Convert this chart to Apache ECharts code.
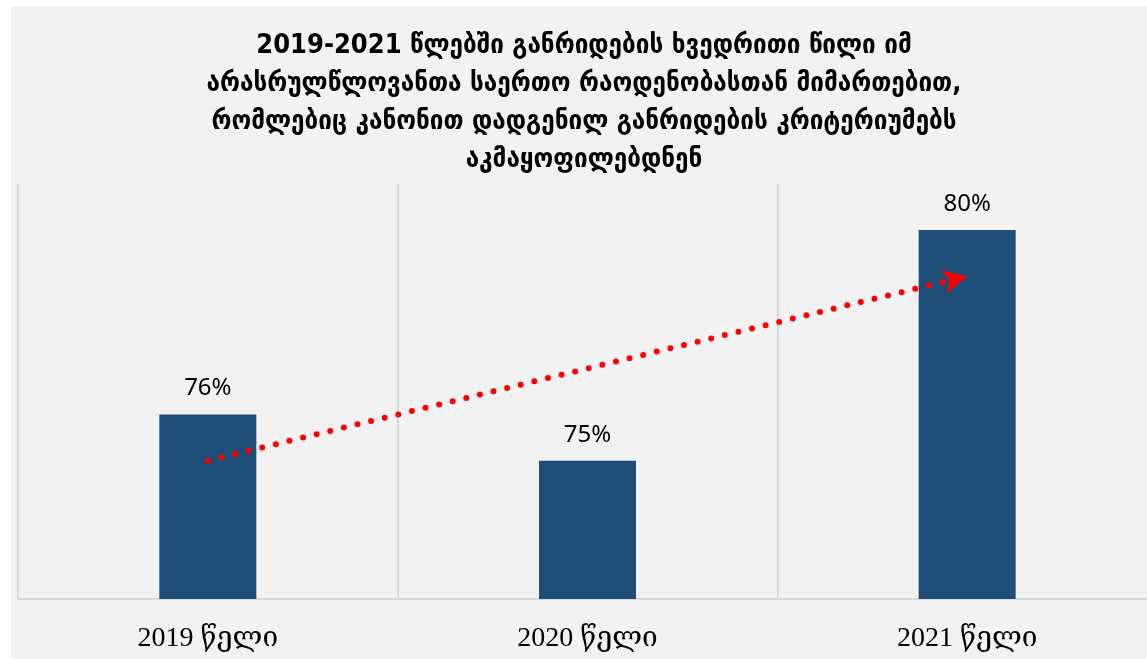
<!DOCTYPE html>
<html>
<head>
<meta charset="utf-8">
<script src="https://cdn.jsdelivr.net/npm/echarts@6/dist/echarts.min.js"></script>
<style>
  html, body { margin: 0; padding: 0; background: #fff; overflow: hidden; width: 1147px; height: 659px; }
  #bg { position: absolute; left: 11px; top: 6px; width: 1136px; height: 653px; background: #f2f2f2; }
  #chart { position: absolute; left: 0; top: 0; width: 1180px; height: 659px; }
</style>
</head>
<body>
<div id="bg"></div>
<div id="chart"></div>
<script>
// data
const years = ['2019 წელი', '2020 წელი', '2021 წელი']
const shares = [76, 75, 80]
// trend line ends (%)
const trendStart = 75
const trendEnd = 79

const titleText = '2019-2021 წლებში განრიდების ხვედრითი წილი იმ\n' +
  'არასრულწლოვანთა საერთო რაოდენობასთან მიმართებით,\n' +
  'რომლებიც კანონით დადგენილ განრიდების კრიტერიუმებს\n' +
  'აკმაყოფილებდნენ'

const chart = echarts.init(document.getElementById('chart'))

const option = {
  animation: false,
  backgroundColor: 'transparent',
  graphic: [{
    type: 'text',
    x: 584,
    y: 27,
    style: {
      text: titleText,
      textAlign: 'center',
      font: 'bold 27px "DejaVu Sans Condensed", "DejaVu Sans", sans-serif',
      lineHeight: 38,
      fill: '#000'
    }
  }],
  grid: {
    left: 18,
    top: 184,
    width: 1139,
    height: 415
  },
  xAxis: {
    type: 'category',
    data: years,
    axisTick: { show: false },
    axisLine: { lineStyle: { color: '#d9d9d9', width: 2 } },
    splitLine: { show: true, lineStyle: { color: '#d9d9d9', width: 2 } },
    axisLabel: {
      color: '#000',
      fontSize: 28,
      fontFamily: '"Liberation Serif", "DejaVu Serif", serif',
      margin: 26
    }
  },
  yAxis: {
    type: 'value',
    min: 72,
    max: 81,
    show: false,
    splitLine: { show: false }
  },
  series: [{
    type: 'bar',
    data: shares,
    barWidth: 97,
    itemStyle: { color: '#1f4e79' },
    label: {
      show: true,
      position: 'top',
      distance: 14,
      formatter: '{c}%',
      color: '#000',
      fontSize: 24,
      fontFamily: '"Noto Sans", sans-serif'
    },
    markLine: {
      silent: true,
      symbol: ['none', 'arrow'],
      symbolSize: [18, 24],
      label: { show: false },
      lineStyle: {
        color: '#ff0000',
        type: [0, 14],
        width: 6,
        cap: 'round'
      },
      data: [[
        { coord: [years[0], trendStart] },
        { coord: [years[2], trendEnd] }
      ]]
    }
  }]
}

chart.setOption(option)
</script>
</body>
</html>
